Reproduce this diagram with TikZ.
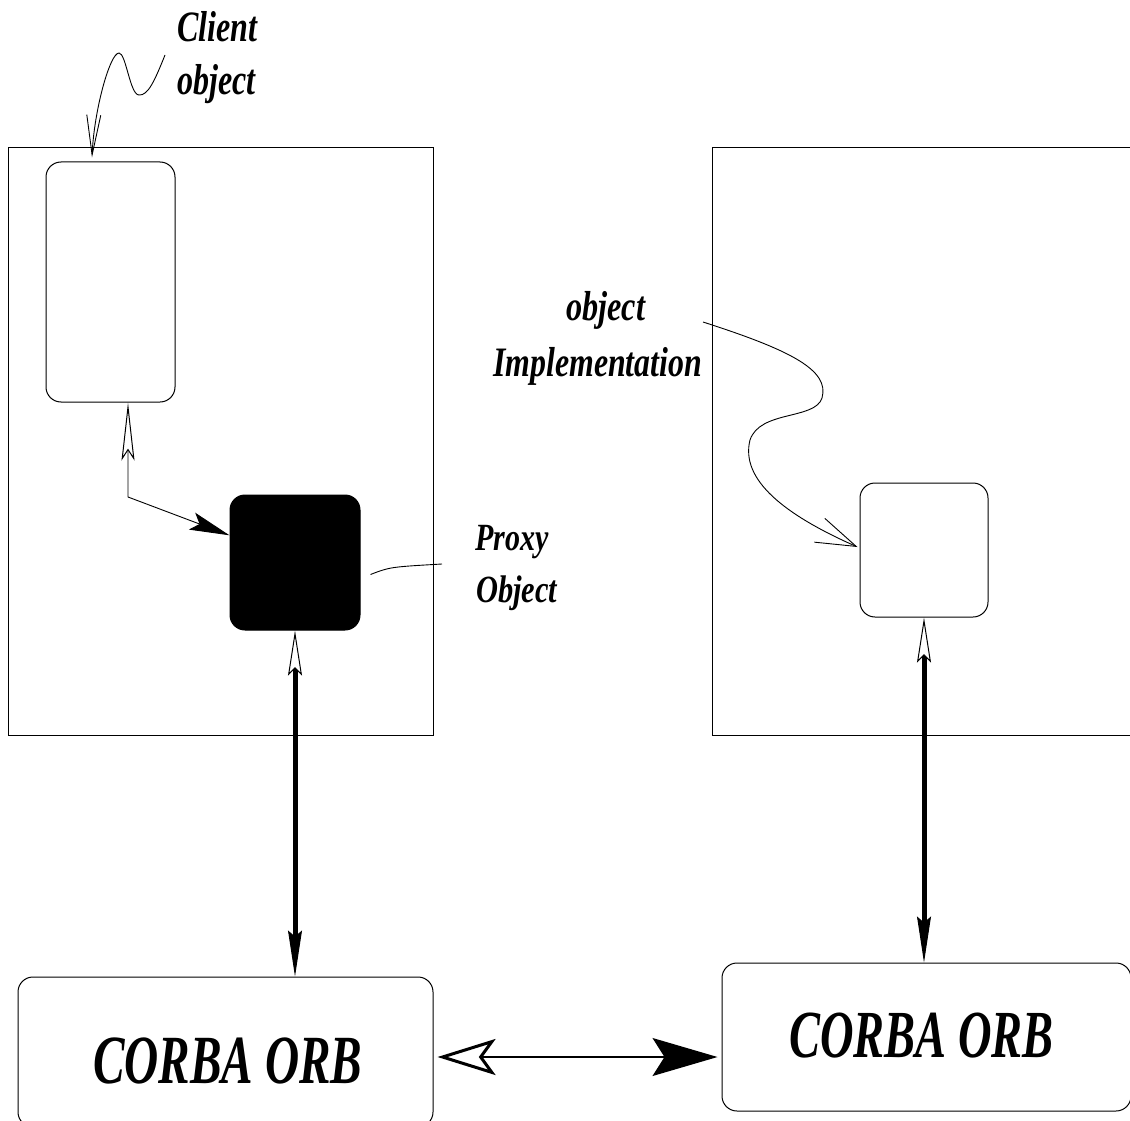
\documentclass[tikz,border=0pt]{standalone}
\usepackage{fontspec}
\setmainfont{Liberation Serif}
\usepackage{graphicx}
\usetikzlibrary{arrows.meta,calc}
\newcommand{\mylbl}[3]{\scalebox{#2}[1]{\fontsize{#1}{#1}\selectfont\bfseries\itshape #3}}
\tikzset{
  frame/.style={draw=black, line width=1pt},
  objbox/.style={draw=black, line width=1pt, rounded corners=15pt, inner sep=0pt},
  lbl/.style={inner sep=0pt, anchor=base west},
  pointer/.style={line width=0.9pt},
  heavy/.style={line width=5pt},
}
\begin{document}
\begin{tikzpicture}[x=1pt,y=-1pt]
\useasboundingbox (0,0) rectangle (1130,1121);
\fill[white] (0,0) rectangle (1130,1121);

% outer frames
\draw[frame] (8,148) rectangle (433,735);
\draw[frame] (1135,148) -- (712,148) -- (712,735) -- (1135,735);

% boxes
\node[objbox, minimum width=129pt, minimum height=240pt] (client) at (110.5,282) {};
\node[objbox, fill=black, minimum width=130pt, minimum height=135pt] (proxy) at (295,562.5) {};
\node[objbox, minimum width=128pt, minimum height=134pt] (impl) at (924,550) {};
\node[objbox, minimum width=415pt, minimum height=150pt] (orbL) at (225.5,1052) {};
\node[objbox, minimum width=409pt, minimum height=148pt] (orbR) at (926.5,1037) {};

% labels
\node[lbl] (tclient) at (177,42) {\mylbl{43.3}{0.74}{Client}};
\node[lbl] (tobjA) at (177,95) {\mylbl{43.3}{0.74}{object}};
\node[lbl] (tobjB) at (566,320) {\mylbl{41.9}{0.77}{object}};
\node[lbl] (timpl) at (493,376) {\mylbl{41.9}{0.76}{Implementation}};
\node[lbl] (tproxy) at (475,550) {\mylbl{38.5}{0.78}{Proxy}};
\node[lbl] (tobjC) at (476,602) {\mylbl{38.5}{0.79}{Object}};
\node[lbl] (torbL) at (93,1083) {\mylbl{69}{0.685}{CORBA ORB}};
\node[lbl] (torbR) at (789,1057) {\mylbl{67.3}{0.69}{CORBA ORB}};

% client label pointer
\coordinate (cstart) at (165,55);
\draw[pointer, -{Straight Barb[length=40pt,width=14pt]}]
  (cstart) .. controls (155,80) and (148,96) .. (139,95)
  .. controls (130,95) and (126,53) .. (119,53)
  .. controls (110,53) and (94,110) .. ([shift={(-18.5,-4)}]client.north);

% client <-> proxy
\coordinate (bend) at (128,497);
\draw[pointer, {Stealth[open,fill=white,line width=1pt,length=58pt,width=13pt,inset=10pt]}-{Stealth[length=40pt,width=18pt,inset=8pt]}]
  (client.south -| bend) -- (bend) -- ($(proxy.north west)!0.3!(proxy.south west)$);

% proxy label pointer
\coordinate (pend) at (442,564);
\draw[pointer] ([shift={(10,12)}]proxy.east) .. controls (390,567) .. (pend);

% heavy vertical arrows
\draw[heavy, {Stealth[open,fill=white,line width=1pt,length=45pt,width=14pt,inset=7pt]}-{Stealth[line width=1pt,length=46pt,width=14pt,inset=6pt]}]
  (proxy.south) -- (proxy.south |- orbL.north);
\draw[heavy, {Stealth[open,fill=white,line width=1pt,length=45pt,width=14pt,inset=7pt]}-{Stealth[line width=1pt,length=46pt,width=14pt,inset=6pt]}]
  (impl.south) -- (impl.south |- orbR.north);

% implementation label pointer
\coordinate (istart) at (703,322);
\draw[pointer, -{Straight Barb[length=40pt,width=26pt]}]
  (istart) .. controls (790,350) and (830,370) .. (822,398)
  .. controls (815,420) and (760,410) .. (750,440)
  .. controls (740,480) and (785,515) .. ([shift={(-2,-3)}]impl.west);

% ORB <-> ORB
\coordinate (hy) at (0,1057);
\draw[line width=1.3pt, shorten <=4pt, shorten >=4pt,
  {Stealth[open,fill=white,line width=3pt,length=58pt,width=36pt,inset=13pt]}-{Stealth[length=65pt,width=38pt,inset=12pt]}]
  (orbL.east |- hy) -- (orbR.west |- hy);
\end{tikzpicture}
\end{document}
